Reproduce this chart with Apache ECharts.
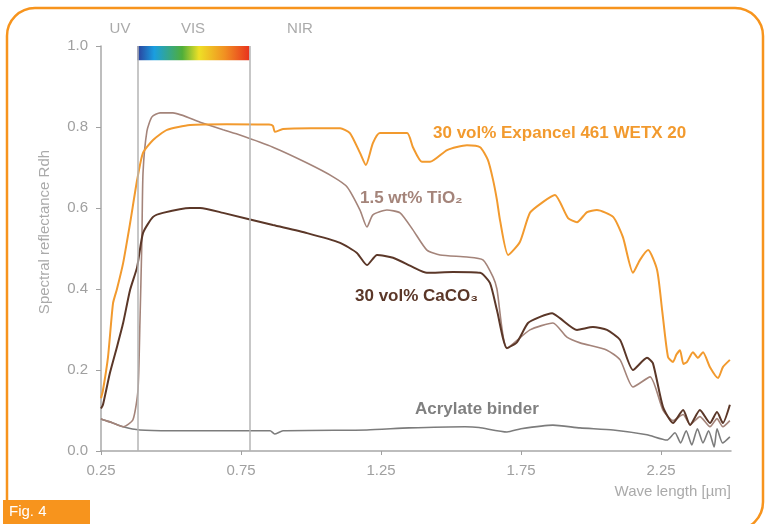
<!DOCTYPE html>
<html>
<head>
<meta charset="utf-8">
<script src="https://cdn.jsdelivr.net/npm/echarts@6/dist/echarts.min.js"></script>
<style>
  html, body { margin: 0; padding: 0; background: #fff; }
  #chart { width: 769px; height: 524px; }
</style>
</head>
<body>
<div id="chart"></div>
<script>
// wavelength [µm], reflectance pairs
const expancel = [[0.25,0.13],[0.257,0.15],[0.275,0.232],[0.293,0.365],[0.307,0.40],[0.329,0.464],[0.354,0.563],[0.379,0.669],[0.4,0.736],[0.436,0.768],[0.486,0.793],[0.568,0.805],[0.7,0.807],[0.85,0.806],[0.864,0.803],[0.871,0.788],[0.9,0.795],[1.0,0.797],[1.104,0.797],[1.139,0.785],[1.175,0.736],[1.196,0.706],[1.221,0.76],[1.246,0.785],[1.343,0.785],[1.364,0.75],[1.396,0.714],[1.425,0.714],[1.486,0.743],[1.557,0.755],[1.604,0.75],[1.632,0.718],[1.65,0.67],[1.664,0.62],[1.675,0.57],[1.704,0.484],[1.746,0.516],[1.782,0.588],[1.829,0.615],[1.871,0.632],[1.918,0.575],[1.95,0.565],[1.986,0.59],[2.021,0.595],[2.079,0.578],[2.114,0.528],[2.15,0.44],[2.175,0.472],[2.204,0.496],[2.236,0.447],[2.254,0.348],[2.275,0.232],[2.293,0.22],[2.305,0.238],[2.318,0.249],[2.33,0.215],[2.343,0.22],[2.364,0.244],[2.382,0.23],[2.4,0.244],[2.425,0.207],[2.454,0.18],[2.471,0.207],[2.496,0.225]];
const tio2 = [[0.25,0.08],[0.257,0.077],[0.29,0.07],[0.329,0.06],[0.364,0.077],[0.382,0.15],[0.389,0.316],[0.396,0.52],[0.4,0.686],[0.414,0.79],[0.432,0.825],[0.461,0.835],[0.507,0.835],[0.604,0.812],[0.686,0.793],[0.746,0.78],[0.864,0.75],[0.986,0.711],[1.079,0.677],[1.129,0.652],[1.175,0.595],[1.2,0.553],[1.221,0.583],[1.271,0.595],[1.318,0.588],[1.364,0.546],[1.414,0.496],[1.461,0.484],[1.557,0.479],[1.614,0.472],[1.65,0.43],[1.664,0.40],[1.7,0.254],[1.782,0.299],[1.864,0.316],[1.914,0.281],[1.961,0.267],[2.057,0.249],[2.104,0.225],[2.15,0.158],[2.211,0.183],[2.257,0.101],[2.293,0.075],[2.329,0.09],[2.354,0.065],[2.389,0.085],[2.425,0.06],[2.45,0.08],[2.471,0.06],[2.496,0.075]];
const caco3 = [[0.25,0.105],[0.257,0.114],[0.282,0.193],[0.307,0.257],[0.329,0.316],[0.354,0.398],[0.379,0.454],[0.4,0.538],[0.436,0.578],[0.471,0.588],[0.568,0.6],[0.604,0.6],[0.686,0.588],[0.864,0.558],[0.986,0.538],[1.104,0.514],[1.164,0.489],[1.2,0.459],[1.236,0.484],[1.293,0.477],[1.364,0.454],[1.414,0.44],[1.507,0.442],[1.604,0.44],[1.639,0.415],[1.664,0.348],[1.7,0.254],[1.736,0.269],[1.775,0.316],[1.818,0.331],[1.861,0.34],[1.889,0.328],[1.95,0.299],[2.007,0.306],[2.057,0.299],[2.104,0.274],[2.15,0.2],[2.2,0.23],[2.221,0.217],[2.257,0.109],[2.293,0.069],[2.329,0.101],[2.354,0.064],[2.389,0.101],[2.425,0.069],[2.45,0.096],[2.471,0.069],[2.496,0.114]];
const binder = [[0.25,0.08],[0.257,0.077],[0.29,0.07],[0.329,0.06],[0.389,0.052],[0.5,0.05],[0.854,0.05],[0.87,0.042],[0.9,0.05],[1.2,0.052],[1.35,0.057],[1.55,0.06],[1.6,0.058],[1.7,0.047],[1.75,0.055],[1.864,0.064],[1.961,0.057],[2.079,0.052],[2.2,0.04],[2.271,0.027],[2.3,0.045],[2.32,0.02],[2.34,0.05],[2.36,0.015],[2.38,0.055],[2.4,0.02],[2.42,0.05],[2.44,0.01],[2.45,0.055],[2.47,0.02],[2.496,0.035]];

const xTicks = [0.25, 0.75, 1.25, 1.75, 2.25];
const visRange = [0.38, 0.78];   // visible band limits
const barRange = [0.965, 1.0];   // spectrum bar height

const font = "Liberation Sans, Arial, sans-serif";
const gray = "#a0a0a0";

let myChart = echarts.init(document.getElementById("chart"));

let option = {
  animation: false,
  grid: { left: 101, right: 38, top: 46, bottom: 73 },
  xAxis: {
    type: "value",
    min: 0.25,
    max: 2.5,
    axisLine: { lineStyle: { color: "#a8a8a8", width: 1.5 } },
    axisTick: { customValues: xTicks, length: 4, lineStyle: { color: "#a0a0a0" } },
    axisLabel: {
      customValues: xTicks,
      formatter: (v) => v.toFixed(2),
      color: gray, fontFamily: font, fontSize: 15, margin: 12,
    },
    splitLine: { show: false },
  },
  yAxis: {
    type: "value",
    min: 0,
    max: 1,
    interval: 0.2,
    axisLine: { show: true, lineStyle: { color: "#a8a8a8", width: 1.5 } },
    axisTick: { show: true, length: 5, lineStyle: { color: "#a0a0a0" } },
    axisLabel: { formatter: (v) => v.toFixed(1), color: gray, fontFamily: font, fontSize: 15, margin: 13 },
    splitLine: { show: false },
  },
  series: [
    {
      name: "30 vol% Expancel 461 WETX 20",
      type: "line",
      data: expancel,
      showSymbol: false,
      smooth: 0.2,
      lineStyle: { color: "#f29a2e", width: 2 },
      z: 3,
      markLine: {
        silent: true,
        symbol: "none",
        label: { show: false },
        lineStyle: { color: "#b5b5b5", width: 1.5, type: "solid" },
        data: [
          [{ coord: [visRange[0], 0] }, { coord: [visRange[0], 1] }],
          [{ coord: [visRange[1], 0] }, { coord: [visRange[1], 1] }],
        ],
      },
      markArea: {
        silent: true,
        itemStyle: {
          color: new echarts.graphic.LinearGradient(0, 0, 1, 0, [
            { offset: 0, color: "#2b3f9c" },
            { offset: 0.15, color: "#1a9ee0" },
            { offset: 0.4, color: "#4fae3a" },
            { offset: 0.55, color: "#eee026" },
            { offset: 0.78, color: "#f19022" },
            { offset: 1, color: "#e8321e" },
          ]),
        },
        data: [[{ coord: [visRange[0], barRange[0]] }, { coord: [visRange[1], barRange[1]] }]],
      },
    },
    {
      name: "1.5 wt% TiO2",
      type: "line",
      data: tio2,
      showSymbol: false,
      smooth: 0.2,
      lineStyle: { color: "#a4847a", width: 1.6 },
      z: 2,
    },
    {
      name: "30 vol% CaCO3",
      type: "line",
      data: caco3,
      showSymbol: false,
      smooth: 0.2,
      lineStyle: { color: "#5b3728", width: 2 },
      z: 4,
    },
    {
      name: "Acrylate binder",
      type: "line",
      data: binder,
      showSymbol: false,
      smooth: 0.2,
      lineStyle: { color: "#7c7c7c", width: 1.6 },
      z: 1,
    },
  ],
  graphic: [
    // frame
    {
      type: "rect",
      shape: { x: 7, y: 8, width: 756, height: 522, r: 28 },
      style: { fill: "none", stroke: "#f7941d", lineWidth: 2.5 },
      z: -1,
    },
    { type: "rect", shape: { x: 3, y: 500, width: 87, height: 24 }, style: { fill: "#f7941d" } },
    { type: "text", x: 9, y: 512, style: { text: "Fig. 4", fill: "#fff", font: "15px " + font, textVerticalAlign: "middle" } },
    // band labels
    { type: "text", x: 120, y: 29, style: { text: "UV", fill: "#aaaaaa", font: "15px " + font, textAlign: "center", textVerticalAlign: "middle" } },
    { type: "text", x: 193, y: 29, style: { text: "VIS", fill: "#aaaaaa", font: "15px " + font, textAlign: "center", textVerticalAlign: "middle" } },
    { type: "text", x: 300, y: 29, style: { text: "NIR", fill: "#aaaaaa", font: "15px " + font, textAlign: "center", textVerticalAlign: "middle" } },
    // axis names
    { type: "text", x: 731, y: 492, style: { text: "Wave length [µm]", fill: "#aaaaaa", font: "15px " + font, textAlign: "right", textVerticalAlign: "middle" } },
    { type: "text", x: 45, y: 232, rotation: Math.PI / 2, style: { text: "Spectral reflectance Rdh", fill: "#aaaaaa", font: "15px " + font, textAlign: "center", textVerticalAlign: "middle" } },
    // series labels
    { type: "text", x: 433, y: 133, style: { text: "30 vol% Expancel 461 WETX 20", fill: "#f29a2e", font: "bold 17px " + font, textVerticalAlign: "middle" } },
    { type: "text", x: 360, y: 198, style: { text: "1.5 wt% TiO₂", fill: "#a4847a", font: "bold 17px " + font, textVerticalAlign: "middle" } },
    { type: "text", x: 355, y: 296, style: { text: "30 vol% CaCO₃", fill: "#5b3728", font: "bold 17px " + font, textVerticalAlign: "middle" } },
    { type: "text", x: 415, y: 409, style: { text: "Acrylate binder", fill: "#808080", font: "bold 17px " + font, textVerticalAlign: "middle" } },
  ],
};
myChart.setOption(option);
</script>
</body>
</html>
